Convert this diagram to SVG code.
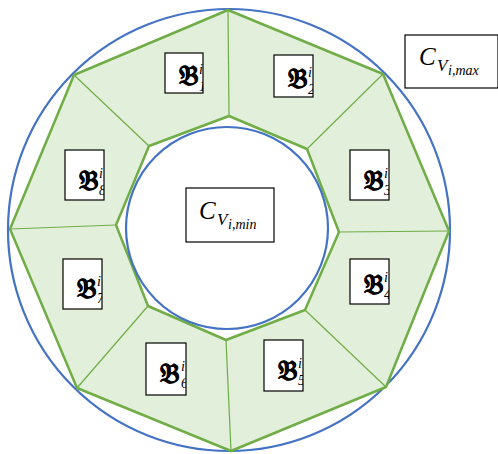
<svg xmlns="http://www.w3.org/2000/svg" width="498" height="454" viewBox="0 0 498 454">
<style>
.circ{fill:none;stroke:#4472C4;stroke-width:2.2}
.oct{fill:none;stroke:#70AD47;stroke-width:2.5;stroke-linejoin:round}
.div{stroke:#70AD47;stroke-width:1.2}
.box{fill:#fff;stroke:#000;stroke-width:1.2}
.bf{font-family:"DejaVu Serif","DejaVu Sans",serif;font-weight:bold;font-size:27px;fill:#000;stroke:#000;stroke-width:0.4}
.it{font-family:"Liberation Serif",serif;font-style:italic;fill:#000}
.sc{font-family:"Liberation Serif",serif;font-style:italic;fill:#000;font-size:14px}
</style>
<defs>
<clipPath id="c1"><rect x="165" y="53" width="38" height="40"/></clipPath>
<clipPath id="c2"><rect x="274" y="55" width="39" height="42"/></clipPath>
<clipPath id="c3"><rect x="350" y="150" width="39" height="50"/></clipPath>
<clipPath id="c4"><rect x="350" y="259" width="39" height="45"/></clipPath>
<clipPath id="c5"><rect x="264" y="340" width="39" height="51"/></clipPath>
<clipPath id="c6"><rect x="146" y="343" width="40" height="52"/></clipPath>
<clipPath id="c7"><rect x="63" y="259" width="39" height="50"/></clipPath>
<clipPath id="c8"><rect x="65" y="150" width="39" height="50"/></clipPath>
</defs>
<circle class="circ" cx="229" cy="230" r="221"/>
<g id="ring">
<path d="M228,10 L383,74 L449,231 L386,387 L231,451 L77,388 L10,229 L74,75 Z M229,116 L307,149 L339,232 L305,310 L226,340 L148,306 L116,225 L149,146 Z" fill="#E2EFDA" fill-rule="evenodd"/>
<polygon class="oct" points="228,10 383,74 449,231 386,387 231,451 77,388 10,229 74,75"/>
<polygon class="oct" points="229,116 307,149 339,232 305,310 226,340 148,306 116,225 149,146"/>
</g>
<g id="connectors">
<line class="div" x1="229" y1="116" x2="228" y2="10"/>
<line class="div" x1="307" y1="149" x2="383" y2="74"/>
<line class="div" x1="339" y1="232" x2="449" y2="231"/>
<line class="div" x1="305" y1="310" x2="386" y2="387"/>
<line class="div" x1="226" y1="340" x2="231" y2="451"/>
<line class="div" x1="148" y1="306" x2="77" y2="388"/>
<line class="div" x1="116" y1="225" x2="10" y2="229"/>
<line class="div" x1="149" y1="146" x2="74" y2="75"/>
</g>
<circle class="circ" cx="227" cy="228" r="101" fill="#fff"/>
<g id="B1"><rect class="box" x="165" y="53" width="38" height="40"/><g clip-path="url(#c1)"><text class="bf" x="179" y="85">𝔅</text><text class="sc" x="199" y="74">i</text><text class="sc" x="199" y="91">1</text></g></g>
<g id="B2"><rect class="box" x="274" y="55" width="39" height="42"/><g clip-path="url(#c2)"><text class="bf" x="288" y="88">𝔅</text><text class="sc" x="308" y="77">i</text><text class="sc" x="308" y="94">2</text></g></g>
<g id="B3"><rect class="box" x="350" y="150" width="39" height="50"/><g clip-path="url(#c3)"><text class="bf" x="364" y="190">𝔅</text><text class="sc" x="384" y="178">i</text><text class="sc" x="384" y="195">3</text></g></g>
<g id="B4"><rect class="box" x="350" y="259" width="39" height="45"/><g clip-path="url(#c4)"><text class="bf" x="364" y="294">𝔅</text><text class="sc" x="384" y="282">i</text><text class="sc" x="384" y="299">4</text></g></g>
<g id="B5"><rect class="box" x="264" y="340" width="39" height="51"/><g clip-path="url(#c5)"><text class="bf" x="278" y="380">𝔅</text><text class="sc" x="298" y="368">i</text><text class="sc" x="298" y="385">5</text></g></g>
<g id="B6"><rect class="box" x="146" y="343" width="40" height="52"/><g clip-path="url(#c6)"><text class="bf" x="160" y="383">𝔅</text><text class="sc" x="181" y="371">i</text><text class="sc" x="181" y="388">6</text></g></g>
<g id="B7"><rect class="box" x="63" y="259" width="39" height="50"/><g clip-path="url(#c7)"><text class="bf" x="77" y="298">𝔅</text><text class="sc" x="97" y="286">i</text><text class="sc" x="97" y="303">7</text></g></g>
<g id="B8"><rect class="box" x="65" y="150" width="39" height="50"/><g clip-path="url(#c8)"><text class="bf" x="79" y="190">𝔅</text><text class="sc" x="99" y="178">i</text><text class="sc" x="99" y="195">8</text></g></g>
<g id="Cmax"><rect class="box" x="405" y="35" width="93" height="53"/><text class="it" x="419" y="65" font-size="25">C</text><text class="it" x="437" y="71" font-size="17">V</text><text class="it" x="448" y="75" font-size="14">i,max</text></g>
<g id="Cmin"><rect class="box" x="186" y="188" width="88" height="54"/><text class="it" x="199" y="219" font-size="25">C</text><text class="it" x="217" y="225" font-size="17">V</text><text class="it" x="228" y="229" font-size="14">i,min</text></g>
</svg>
